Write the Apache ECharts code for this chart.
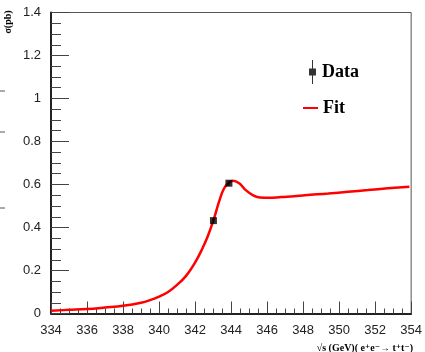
<!DOCTYPE html>
<html>
<head>
<meta charset="utf-8">
<script src="https://cdn.jsdelivr.net/npm/echarts@6/dist/echarts.min.js"></script>
<style>html,body{margin:0;padding:0;background:#fff}#c{width:425px;height:352px}</style>
</head>
<body>
<div id="c"></div>
<script>
// Fit curve
var fitX = [334.0, 335.0, 336.0, 337.0, 338.0, 339.0, 339.5, 340.0, 340.5, 341.0, 341.5, 342.0, 342.4, 342.7, 343.0, 343.35, 343.6, 343.85, 344.1, 344.45, 344.8, 345.2, 345.6, 346.1, 346.8, 347.5, 348.1, 349.4, 350.5, 351.6, 352.7, 353.9];
var fitY = [0.013, 0.017, 0.021, 0.028, 0.036, 0.050, 0.062, 0.078, 0.100, 0.133, 0.175, 0.237, 0.301, 0.358, 0.428, 0.525, 0.580, 0.607, 0.618, 0.606, 0.575, 0.551, 0.540, 0.538, 0.542, 0.545, 0.550, 0.558, 0.566, 0.574, 0.582, 0.590];
// Data points
var dataX = [343.02, 343.88];
var dataY = [0.432, 0.606];
var dataErr = [0.012, 0.012];
// Axis ticks
var xTicks = [334, 336, 338, 340, 342, 344, 346, 348, 350, 352, 354];
var yTicks = [0, 0.2, 0.4, 0.6, 0.8, 1, 1.2, 1.4];

var chart = echarts.init(document.getElementById('c'), null, {renderer: 'canvas'});
var fitData = fitX.map(function (x, i) { return [x, fitY[i]]; });
var ptData = dataX.map(function (x, i) { return [x, dataY[i], dataErr[i]]; });
var serif = '"Liberation Serif", "DejaVu Serif", serif';
var sans = '"Liberation Sans", Arial, sans-serif';

chart.setOption({
  animation: false,
  backgroundColor: '#fff',
  grid: {left: 51, right: 12, top: 12.5, bottom: 38.5, show: true, borderColor: '#555', borderWidth: 1, backgroundColor: 'transparent'},
  xAxis: {
    type: 'value', min: xTicks[0], max: xTicks[xTicks.length - 1], interval: 2,
    axisLine: {show: true, onZero: false, lineStyle: {color: '#222', width: 2}},
    axisTick: {show: true, inside: true, length: 12, lineStyle: {color: '#444', width: 1}},
    minorTick: {show: true, splitNumber: 4, length: 5, lineStyle: {color: '#444', width: 1}},
    splitLine: {show: false},
    axisLabel: {color: '#222', fontSize: 13, fontFamily: sans, margin: 10, showMaxLabel: true, showMinLabel: true}
  },
  yAxis: {
    type: 'value', min: yTicks[0], max: yTicks[yTicks.length - 1], interval: 0.2,
    axisLine: {show: true, onZero: false, lineStyle: {color: '#222', width: 2}},
    axisTick: {show: true, inside: true, length: 18, lineStyle: {color: '#444', width: 1}},
    minorTick: {show: true, splitNumber: 4, length: 10, lineStyle: {color: '#444', width: 1}},
    splitLine: {show: false},
    axisLabel: {color: '#222', fontSize: 13, fontFamily: sans, margin: 10,
      formatter: function (v) { return String(+v.toFixed(1)); }}
  },
  legend: [
    {
      data: [{name: 'Data', icon: 'path://M4,0H5V24H4Z M1,8.5H8V15.5H1Z'}],
      left: 304, top: 55, itemWidth: 9, itemHeight: 24,
      textStyle: {fontFamily: serif, fontWeight: 'bold', fontSize: 18, color: '#000'},
      itemStyle: {color: '#000'}, selectedMode: false
    },
    {
      data: [{name: 'Fit', icon: 'path://M0,0H15V2H0Z'}],
      left: 298, top: 94, itemWidth: 15, itemHeight: 2.5,
      textStyle: {fontFamily: serif, fontWeight: 'bold', fontSize: 18, color: '#000'},
      itemStyle: {color: '#ff0000'}, selectedMode: false
    }
  ],
  series: [
    {
      name: 'Fit', type: 'line', data: fitData, smooth: 0.4, showSymbol: false, symbol: 'none',
      lineStyle: {color: '#ff0000', width: 2.5}, itemStyle: {color: '#ff0000'}, z: 2
    },
    {
      type: 'custom', data: ptData, z: 3, silent: true,
      renderItem: function (params, api) {
        var x = api.value(0), y = api.value(1), e = api.value(2);
        var p1 = api.coord([x, y - e]), p2 = api.coord([x, y + e]);
        return {type: 'line', shape: {x1: p1[0], y1: p1[1], x2: p2[0], y2: p2[1]},
          style: {stroke: '#000', lineWidth: 1}};
      }
    },
    {
      name: 'Data', type: 'scatter', data: ptData.map(function (d) { return [d[0], d[1]]; }),
      symbol: 'rect', symbolSize: 7, itemStyle: {color: '#000'}, z: 4
    }
  ],
  graphic: [
    {type: 'text', x: 8, y: 22, rotation: Math.PI / 2,
      style: {text: 'σ(pb)', font: 'bold 10px ' + serif, fill: '#000', align: 'center', verticalAlign: 'middle'}},
    {type: 'text', x: 413, y: 348,
      style: {text: '√s (GeV)( e⁺e⁻→ t⁺t⁻)', font: 'bold 10px ' + serif, fill: '#000', align: 'right', verticalAlign: 'middle'}},
    {type: 'line', shape: {x1: 0, y1: 91, x2: 5, y2: 91}, style: {stroke: '#555', lineWidth: 1}},
    {type: 'line', shape: {x1: 0, y1: 132, x2: 5, y2: 132}, style: {stroke: '#555', lineWidth: 1}},
    {type: 'line', shape: {x1: 0, y1: 208, x2: 5, y2: 208}, style: {stroke: '#555', lineWidth: 1}}
  ]
});
</script>
</body>
</html>
